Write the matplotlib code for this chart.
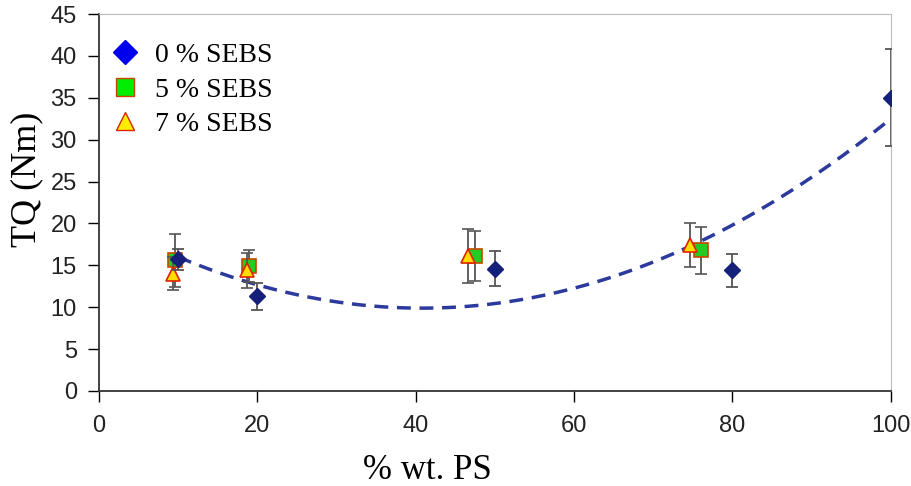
import numpy as np
import matplotlib.pyplot as plt
from matplotlib.lines import Line2D

# data
x_0 = [10, 20, 50, 80, 100]
y_0 = [15.7, 11.3, 14.6, 14.4, 35.0]
err_0 = [1.2, 1.6, 2.1, 2.0, 5.8]

x_5 = [9.6, 19.0, 47.5, 76.0]
y_5 = [15.6, 14.9, 16.1, 16.8]
err_5 = [3.2, 1.9, 3.0, 2.8]

x_7 = [9.3, 18.7, 46.6, 74.6]
y_7 = [14.0, 14.4, 16.1, 17.4]
err_7 = [2.0, 2.1, 3.2, 2.6]

# quadratic trendline coefficients (a, b, c)
fit_coef = [0.006444, -0.5256, 20.61]
fit_range = [10, 100]

xticks = [0, 20, 40, 60, 80, 100]
yticks = [0, 5, 10, 15, 20, 25, 30, 35, 40, 45]

serif = ["Liberation Serif", "DejaVu Serif"]
sans = ["Liberation Sans", "DejaVu Sans"]

fig = plt.figure(figsize=(9.12, 4.86), dpi=100)
ax = fig.add_axes([0.1086, 0.1955, 0.868, 0.7755])

ebar_kw = dict(ecolor="#555555", elinewidth=1.3, capsize=4, capthick=1.3, linestyle="none")
ax.errorbar(x_5, y_5, yerr=err_5, marker="s", markersize=10, markerfacecolor="#22cc22",
            markeredgecolor="#cc4400", markeredgewidth=1.2, zorder=3, **ebar_kw)
ax.errorbar(x_7, y_7, yerr=err_7, marker="^", markersize=10, markerfacecolor="#ffdd00",
            markeredgecolor="#dd2200", markeredgewidth=1.2, zorder=4, **ebar_kw)
ax.errorbar(x_0, y_0, yerr=err_0, marker="D", markersize=8, markerfacecolor="#15207a",
            markeredgecolor="#15207a", zorder=5, **ebar_kw)

xf = np.linspace(fit_range[0], fit_range[1], 200)
ax.plot(xf, np.polyval(fit_coef, xf), color="#2b3a9c", linewidth=2.5,
        dashes=(4, 2.5), zorder=2)

ax.set_xlim(0, 100)
ax.set_ylim(0, 45)
ax.set_xticks(xticks)
ax.set_yticks(yticks)
ax.tick_params(direction="out", length=8, width=1, labelsize=17)
ax.tick_params(axis="x", pad=9)
ax.tick_params(axis="y", pad=8)
for lab in ax.get_xticklabels() + ax.get_yticklabels():
    lab.set_family(sans)
    lab.set_color("#222222")

for side in ["top", "right"]:
    ax.spines[side].set_color("#bbbbbb")
for side in ["left", "bottom"]:
    ax.spines[side].set_color("#333333")
    ax.spines[side].set_linewidth(1.3)

ax.set_xlabel("% wt. PS", family=serif, fontsize=25)
ax.xaxis.set_label_coords(0.415, -0.168)
ax.set_ylabel("TQ (Nm)", family=serif, fontsize=26)
ax.yaxis.set_label_coords(-0.071, 0.562)

handles = [
    Line2D([], [], marker="D", linestyle="none", markersize=12,
           markerfacecolor="#0000ee", markeredgecolor="#0000ee"),
    Line2D([], [], marker="s", linestyle="none", markersize=13,
           markerfacecolor="#00ee00", markeredgecolor="#cc4400"),
    Line2D([], [], marker="^", linestyle="none", markersize=13,
           markerfacecolor="#ffee00", markeredgecolor="#dd2200"),
]
labels = ["0 % SEBS", "5 % SEBS", "7 % SEBS"]
ax.legend(handles, labels, loc="upper left", bbox_to_anchor=(0.015, 0.924), frameon=False,
          prop={"family": serif, "size": 20}, handlelength=1.0, handletextpad=0.58,
          labelspacing=0.32, borderaxespad=0, borderpad=0)

fig.savefig("out.png", dpi=100)
